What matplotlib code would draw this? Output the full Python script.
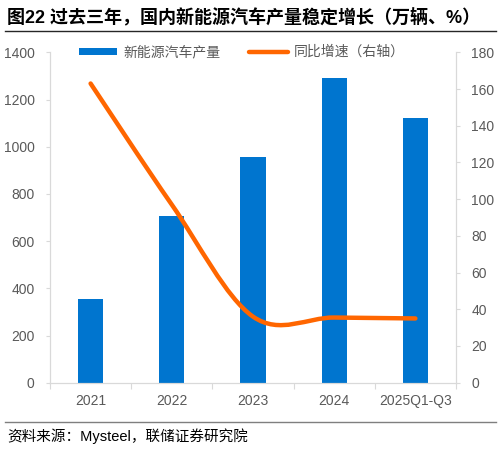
import matplotlib
matplotlib.use("Agg")
import matplotlib.pyplot as plt
from matplotlib.lines import Line2D
from matplotlib.patches import Patch, PathPatch
from matplotlib.path import Path

plt.rcParams["font.family"] = ["Liberation Sans", "Noto Sans CJK SC", "DejaVu Sans"]

# ── data ──────────────────────────────────────────────────────────────
years = ["2021", "2022", "2023", "2024", "2025Q1-Q3"]
output = [354, 705, 958, 1289, 1123]          # 万辆
growth = [163, 97, 36, 35.5, 35]              # %

title = "图22 过去三年，国内新能源汽车产量稳定增长（万辆、%）"
source = "资料来源：Mysteel，联储证券研究院"

BLUE = "#0075CF"
ORANGE = "#FF6600"
GRAY = "#595959"
LIGHT = "#D9D9D9"
CJK = ["Noto Sans CJK SC", "DejaVu Sans"]
MIXED = ["Liberation Sans", "Noto Sans CJK SC", "DejaVu Sans"]


def smooth_path(xs, ys):
    """Excel-style smoothed line as a cubic Bezier path (Catmull-Rom)."""
    pts = list(zip(xs, ys))
    verts = [pts[0]]
    codes = [Path.MOVETO]
    n = len(pts)
    for i in range(n - 1):
        p0 = pts[i - 1] if i > 0 else pts[i]
        p1, p2 = pts[i], pts[i + 1]
        p3 = pts[i + 2] if i + 2 < n else pts[i + 1]
        c1 = (p1[0] + (p2[0] - p0[0]) / 6, p1[1] + (p2[1] - p0[1]) / 6)
        c2 = (p2[0] - (p3[0] - p1[0]) / 6, p2[1] - (p3[1] - p1[1]) / 6)
        verts += [c1, c2, p2]
        codes += [Path.CURVE4] * 3
    return Path(verts, codes)


fig = plt.figure(figsize=(5.04, 4.5), dpi=100)
ax = fig.add_axes([50 / 504, 1 - 382.7 / 450, 406 / 504, 330.4 / 450])
ax2 = ax.twinx()

x = list(range(len(years)))
ax.bar(x, output, width=0.31, color=BLUE, zorder=2)
ax.set_ylim(0, 1400)
ax.set_yticks(range(0, 1401, 200))
ax.set_xlim(-0.5, len(years) - 0.5)

ax2.add_patch(PathPatch(smooth_path(x, growth), facecolor="none",
                        edgecolor=ORANGE, lw=3.2, capstyle="round",
                        joinstyle="round", zorder=3))
ax2.set_ylim(0, 180)
ax2.set_yticks(range(0, 181, 20))

# category axis: boundary ticks, centred labels
ax.set_xticks([i - 0.5 for i in range(len(years) + 1)])
ax.set_xticklabels([])
ax.set_xticks(x, minor=True)
ax.set_xticklabels(years, minor=True)
ax.tick_params(axis="x", which="major", length=4, color=LIGHT)
ax.tick_params(axis="x", which="minor", length=0, pad=8, labelsize=10,
               labelcolor=GRAY)

ax.tick_params(axis="y", length=3, color=LIGHT, pad=8, labelsize=10,
               labelcolor=GRAY)
ax2.tick_params(axis="y", length=3, color=LIGHT, pad=8, labelsize=10,
                labelcolor=GRAY)

for a in (ax, ax2):
    a.spines["top"].set_visible(False)
    for s in ("left", "right", "bottom"):
        a.spines[s].set_color(LIGHT)
    a.set_zorder(1)
ax2.set_zorder(2)
ax2.patch.set_visible(False)

handles = [Patch(facecolor=BLUE, label="新能源汽车产量"),
           Line2D([], [], color=ORANGE, lw=3.2, solid_capstyle="round",
                  label="同比增速（右轴）")]
leg = fig.legend(handles=handles, loc="center left", ncol=2,
                 bbox_to_anchor=(66 / 504, 1 - 52 / 450), frameon=False,
                 handlelength=2.8, handleheight=0.4, handletextpad=0.4,
                 columnspacing=2.1, prop={"family": CJK, "size": 10})
for t in leg.get_texts():
    t.set_color(GRAY)

fig.text(7 / 504, 1 - 17 / 450, title, fontsize=13, fontweight="bold",
         family=MIXED, va="center", ha="left")
fig.add_artist(Line2D([5 / 504, 496 / 504], [1 - 31 / 450] * 2,
                      color="#262626", lw=1))
fig.add_artist(Line2D([5 / 504, 496 / 504], [1 - 422 / 450] * 2,
                      color="#7F7F7F", lw=1))
fig.text(7 / 504, 1 - 436 / 450, source, fontsize=10.5, family=MIXED,
         va="center", ha="left")

fig.savefig("out.png", dpi=100)
